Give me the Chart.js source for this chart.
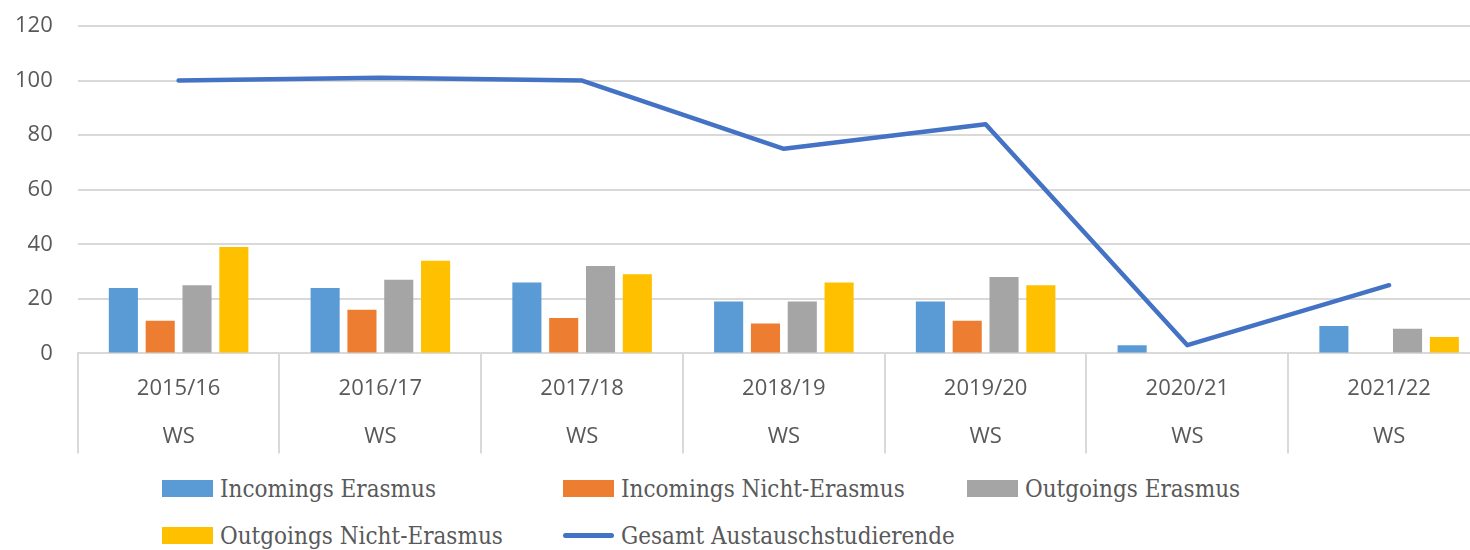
<!DOCTYPE html>
<html>
<head>
<meta charset="utf-8">
<script src="https://cdn.jsdelivr.net/npm/chart.js@4"></script>
<style>
  body { margin: 0; overflow: hidden; background: #fff; }
  #wrap { position: relative; width: 1490px; height: 550px; }
  #myChart { position: absolute; left: 0; top: 0; }
  #legend { position: absolute; left: 162px; top: 480px; display: grid;
    grid-template-columns: 401px 404px 300px; row-gap: 30px; }
  .item { display: flex; align-items: center; height: 17px;
    font-family: "DejaVu Serif Condensed", "DejaVu Serif", serif; font-size: 24px; color: #595959; }
  .swatch { width: 51px; height: 17px; margin-right: 7px; flex: none; }
  .swatch.line { height: 5px; border-radius: 3px; }
</style>
</head>
<body>
<div id="wrap">
  <canvas id="myChart" width="1490" height="464"></canvas>
  <div id="legend"></div>
</div>
<script>
const ctx = document.querySelector("#myChart").getContext("2d");

// Semester labels (year + WS)
const years = ["2015/16", "2016/17", "2017/18", "2018/19", "2019/20", "2020/21", "2021/22"];
const semesters = ["WS", "WS", "WS", "WS", "WS", "WS", "WS"];

const incomingsErasmus = [24, 24, 26, 19, 19, 3, 10];
const incomingsNichtErasmus = [12, 16, 13, 11, 12, 0, 0];
const outgoingsErasmus = [25, 27, 32, 19, 28, 0, 9];
const outgoingsNichtErasmus = [39, 34, 29, 26, 25, 0, 6];
const gesamt = [100, 101, 100, 75, 84, 3, 25];

const yTicks = [0, 20, 40, 60, 80, 100, 120];

const labels = years.map((y, i) => [y, semesters[i]]);

const barOpts = {
    barPercentage: 0.79,
    categoryPercentage: 0.73,
    order: 2,
};

const data = {
    labels,
    datasets: [
        { type: "bar", label: "Incomings Erasmus", data: incomingsErasmus, backgroundColor: "#5b9bd5", ...barOpts },
        { type: "bar", label: "Incomings Nicht-Erasmus", data: incomingsNichtErasmus, backgroundColor: "#ed7d31", ...barOpts },
        { type: "bar", label: "Outgoings Erasmus", data: outgoingsErasmus, backgroundColor: "#a5a5a5", ...barOpts },
        { type: "bar", label: "Outgoings Nicht-Erasmus", data: outgoingsNichtErasmus, backgroundColor: "#ffc000", ...barOpts },
        {
            type: "line",
            label: "Gesamt Austauschstudierende",
            data: gesamt,
            borderColor: "#4472c4",
            backgroundColor: "#4472c4",
            borderWidth: 4.5,
            borderCapStyle: "round",
            borderJoinStyle: "round",
            pointRadius: 0,
            tension: 0,
            order: 1,
        },
    ]
};

// category separators below the axis (two-level axis look)
const separators = {
    id: "separators",
    afterDraw(chart) {
        const x = chart.scales.x;
        const area = chart.chartArea;
        const n = chart.data.labels.length;
        const step = (x.right - x.left) / n;
        const c = chart.ctx;
        c.save();
        c.strokeStyle = "#d9d9d9";
        c.lineWidth = 2;
        c.beginPath();
        for (let i = 0; i <= n; i++) {
            const px = Math.round(x.left + i * step);
            c.moveTo(px, area.bottom);
            c.lineTo(px, area.bottom + 100);
        }
        c.stroke();
        c.restore();
    }
};

// simple html legend laid out in columns like the original
const htmlLegend = {
    id: "htmlLegend",
    afterUpdate(chart) {
        const box = document.getElementById("legend");
        box.innerHTML = "";
        chart.data.datasets.forEach((ds) => {
            const item = document.createElement("div");
            item.className = "item";
            const sw = document.createElement("span");
            sw.className = "swatch" + (ds.type === "line" ? " line" : "");
            sw.style.background = ds.type === "line" ? ds.borderColor : ds.backgroundColor;
            const txt = document.createElement("span");
            txt.textContent = ds.label;
            item.appendChild(sw);
            item.appendChild(txt);
            box.appendChild(item);
        });
    }
};

const config = {
    type: "bar",
    data: data,
    plugins: [separators, htmlLegend],
    options: {
        responsive: false,
        animation: false,
        layout: { padding: { top: 26, left: -10, right: 0, bottom: 0 } },
        plugins: {
            legend: { display: false },
            tooltip: { enabled: false },
        },
        scales: {
            x: {
                grid: { display: false },
                border: { color: "#d9d9d9", width: 2 },
                ticks: {
                    padding: 4,
                    color: "#595959",
                    font: { family: "Open Sans", size: 22, lineHeight: 2.15 },
                    maxRotation: 0,
                    autoSkip: false,
                },
            },
            y: {
                min: 0,
                max: 120,
                afterBuildTicks: (axis) => {
                    axis.ticks = yTicks.map((v) => ({ value: v }));
                },
                afterFit: (axis) => {
                    axis.paddingTop = 0;
                    axis.paddingBottom = 0;
                },
                grid: { color: "#d9d9d9", lineWidth: 2, drawTicks: false },
                border: { display: false },
                ticks: {
                    padding: 25,
                    color: "#595959",
                    font: { family: "Open Sans", size: 22 },
                },
            },
        },
    },
};

const myChart = new Chart(ctx, config);
</script>
</body>
</html>
